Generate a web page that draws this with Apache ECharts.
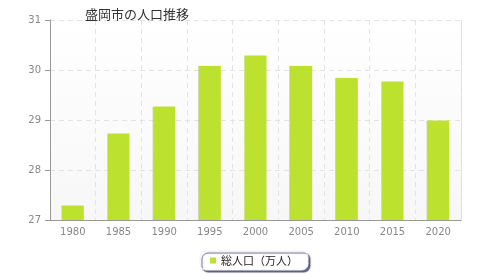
<!DOCTYPE html>
<html><head><meta charset="utf-8">
<script src="https://cdn.jsdelivr.net/npm/echarts@6/dist/echarts.min.js"></script>
<style>html,body{margin:0;padding:0;background:#fff}#c{width:480px;height:280px}</style>
</head><body><div id="c"></div>
<script>
var categories = ['1980','1985','1990','1995','2000','2005','2010','2015','2020'];
var population = [27.29, 28.73, 29.27, 30.08, 30.29, 30.08, 29.84, 29.77, 28.99];
var yTicks = [27, 28, 29, 30, 31];
var seriesName = '総人口（万人）';
var titleText = '盛岡市の人口推移';

var chart = echarts.init(document.getElementById('c'), null, {renderer:'canvas'});
chart.setOption({
  animation:false,
  title:{text:titleText,left:80,top:3,textStyle:{fontSize:13,fontWeight:'normal',color:'#333',fontFamily:'Noto Sans CJK JP'}},
  grid:{left:50,right:19,top:20,bottom:60,show:true,borderWidth:0,
    backgroundColor:new echarts.graphic.LinearGradient(0,0,0,1,[{offset:0,color:'#ffffff'},{offset:1,color:'#f7f7f7'}])},
  legend:{bottom:10,left:200,itemWidth:6,itemHeight:6,icon:'rect',itemGap:6,
    padding:[4,10,4,10],borderColor:'#f0f0f0',borderWidth:1,borderRadius:6,backgroundColor:'#fff',
    shadowColor:'rgba(70,70,110,0.85)',shadowOffsetX:2,shadowOffsetY:2,shadowBlur:1,
    textStyle:{fontSize:11,color:'#222',fontFamily:'Noto Sans CJK JP'},data:[seriesName]},
  xAxis:{type:'category',data:categories,
    axisLine:{lineStyle:{color:'#999'}},
    axisTick:{alignWithLabel:true,length:5,lineStyle:{color:'#999'}},
    axisLabel:{color:'#888',fontSize:10,margin:7,fontFamily:'DejaVu Sans'},
    splitLine:{show:true,lineStyle:{color:'#e3e3e3',type:[5,4]}}},
  yAxis:{type:'value',min:27,max:31,interval:1,
    axisLine:{show:true,lineStyle:{color:'#999'}},
    axisTick:{show:true,length:5,lineStyle:{color:'#999'}},
    axisLabel:{color:'#888',fontSize:10,margin:9,fontFamily:'DejaVu Sans',
      formatter:function(v){return yTicks.indexOf(v)>=0?String(v):'';}},
    splitLine:{show:true,lineStyle:{color:'#e3e3e3',type:[5,4]}}},
  series:[{name:seriesName,type:'bar',data:population,barWidth:22,
    itemStyle:{color:'#bde12f',shadowColor:'rgba(90,100,30,0.45)',shadowOffsetX:-1,shadowBlur:1}}],
  graphic:[{type:'line',shape:{x1:461.5,y1:20,x2:461.5,y2:220},style:{stroke:'#dddddd',lineWidth:1}}]
});
</script></body></html>
